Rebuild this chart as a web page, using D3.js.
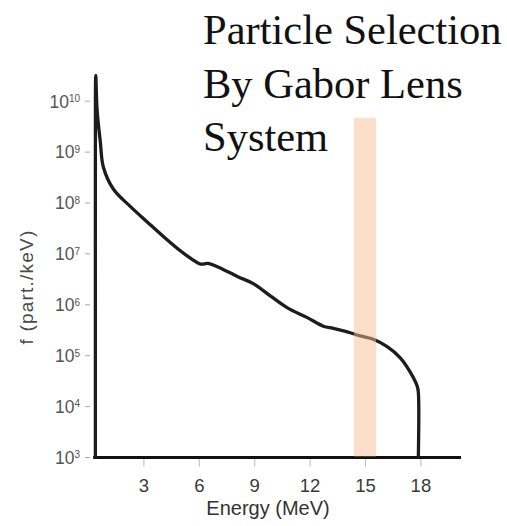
<!DOCTYPE html>
<html>
<head>
<meta charset="utf-8">
<script src="https://cdn.jsdelivr.net/npm/d3@7"></script>
<style>
  body { margin: 0; background: #fff; }
  svg { display: block; }
</style>
</head>
<body>
<div id="chart"></div>
<script>
// energy (MeV) and spectrum f (part./keV)
const energy = [0.40, 0.40, 0.40, 0.42, 0.49, 0.67, 0.83, 1.38, 2.30, 3.22, 4.08, 5.00, 5.60, 6.10, 6.50,
                7.00, 8.09, 8.95, 9.87, 10.80, 11.88, 12.74, 13.28, 14.04, 14.75, 15.45, 16.20, 16.91,
                17.46, 17.83, 17.89, 17.89];
const spectrum = [1e3, 1e6, 1e9, 3.2e10, 6.9e9, 1.55e9, 5.1e8, 1.86e8, 8.5e7, 4.2e7, 2.2e7, 1.15e7, 8.0e6, 6.3e6, 6.5e6,
                  5.6e6, 3.6e6, 2.6e6, 1.5e6, 8.7e5, 5.6e5, 3.8e5, 3.45e5, 2.95e5, 2.45e5, 2.1e5, 1.5e5, 9.1e4,
                  4.7e4, 2.5e4, 1.9e4, 1e3];
const xTicks = [3, 6, 9, 12, 15, 18];
const yExponents = [3, 4, 5, 6, 7, 8, 9, 10];
// selected energy window
const band = { from: 14.4, to: 15.6, top: 4.7e9 };
const titleLines = ["Particle Selection", "By Gabor Lens", "System"];

const W = 507, H = 526;
const svg = d3.select("#chart").append("svg")
    .attr("width", W)
    .attr("height", H);

const x = d3.scaleLinear().domain([0, 20.2]).range([88, 461]);
const y = d3.scaleLog().domain([1e3, 1e11]).range([457.5, 457.5 - 8 * 50.9]);

// title
const title = svg.append("text")
    .attr("x", 203)
    .attr("y", 44)
    .style("font-family", "'Liberation Serif', 'Times New Roman', serif")
    .style("font-size", "42.5px")
    .style("fill", "#111");
title.selectAll("tspan")
    .data(titleLines)
    .enter()
    .append("tspan")
    .attr("x", 203)
    .attr("dy", (d, i) => i === 0 ? 0 : 53.5)
    .text(d => d);

// y axis: short faint ticks + 10^n labels
const yAxis = svg.append("g").attr("class", "y-axis");
yAxis.selectAll("line")
    .data(yExponents)
    .enter()
    .append("line")
    .attr("x1", 85).attr("x2", 90)
    .attr("y1", d => y(Math.pow(10, d)))
    .attr("y2", d => y(Math.pow(10, d)))
    .style("stroke", "#aaa")
    .style("stroke-width", 1);

const yLab = yAxis.selectAll("text")
    .data(yExponents)
    .enter()
    .append("text")
    .attr("x", 80)
    .attr("y", d => y(Math.pow(10, d)))
    .attr("dy", "0.36em")
    .attr("text-anchor", "end")
    .style("font-family", "'Liberation Sans', Arial, sans-serif")
    .style("font-size", "17.5px")
    .style("fill", "#555");
yLab.append("tspan").text("10");
yLab.append("tspan")
    .attr("dy", "-0.55em")
    .style("font-size", "10px")
    .text(d => d);

svg.append("text")
    .attr("transform", "translate(33,287) rotate(-90)")
    .attr("text-anchor", "middle")
    .style("font-family", "'Liberation Sans', Arial, sans-serif")
    .style("font-size", "19px")
    .style("letter-spacing", "1.2px")
    .style("fill", "#4a4a4a")
    .text("f (part./keV)");

// x axis
const xAxis = svg.append("g")
    .attr("transform", `translate(0,${y(1e3)})`)
    .call(d3.axisBottom(x).tickValues(xTicks).tickSize(9).tickPadding(12));
xAxis.select(".domain").remove();
xAxis.selectAll(".tick line").style("stroke", "#bbb");
xAxis.selectAll(".tick text")
    .style("font-family", "'Liberation Sans', Arial, sans-serif")
    .style("font-size", "18.5px")
    .style("fill", "#3a3a3a");

svg.append("line")
    .attr("x1", x(0.28)).attr("x2", x(20.2))
    .attr("y1", y(1e3)).attr("y2", y(1e3))
    .style("stroke", "#111")
    .style("stroke-width", 3);

svg.append("text")
    .attr("x", 268)
    .attr("y", 515)
    .attr("text-anchor", "middle")
    .style("font-family", "'Liberation Sans', Arial, sans-serif")
    .style("font-size", "20px")
    .style("fill", "#333")
    .text("Energy (MeV)");

// spectrum curve
const points = energy.map((e, i) => ({ e: e, f: spectrum[i] }));
const line = d3.line()
    .x(d => x(d.e))
    .y(d => y(d.f))
    .curve(d3.curveCatmullRom.alpha(0.5));

svg.append("path")
    .datum(points)
    .attr("d", line)
    .style("fill", "none")
    .style("stroke", "#1c1c1c")
    .style("stroke-width", 3.3)
    .style("stroke-linejoin", "round");

// selection band drawn over the curve
svg.append("rect")
    .attr("x", x(band.from))
    .attr("width", x(band.to) - x(band.from))
    .attr("y", y(band.top))
    .attr("height", y(1e3) - y(band.top) - 1)
    .style("fill", "#f8bf94")
    .style("opacity", 0.5);
</script>
</body>
</html>
